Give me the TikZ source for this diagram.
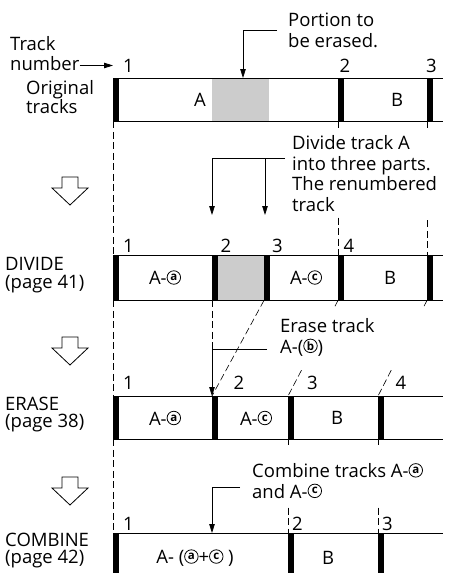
\documentclass[tikz,border=0pt]{standalone}
\usepackage{fontspec}
\setmainfont{Open Sans}
\usetikzlibrary{arrows.meta, calc}

\definecolor{erasegray}{gray}{0.8}
% circled small letter, as used for the track parts
\newcommand{\circlet}[1]{\tikz[baseline=(c.south)]\node[circle, draw, line width=0.8pt, inner sep=0pt, minimum size=13.5pt, font=\bfseries\fontsize{11.5}{11.5}\selectfont] (c) {#1};}

\begin{document}
\begin{tikzpicture}[x=1pt, y=-1pt,
    trkline/.style={line width=0.8pt},
    trkbar/.style={fill=black, inner sep=0pt, minimum width=5.5pt, minimum height=#1, anchor=north west},
    trkbar/.default=43pt,
    guide/.style={line width=0.6pt, dash pattern=on 7pt off 3.5pt},
    callout/.style={line width=0.8pt, -{Triangle[length=9pt, width=5.5pt]}},
    holarrow/.style={line width=0.8pt, fill=white},
    txt/.style={font=\fontsize{18.5}{20.5}\selectfont, inner sep=0pt, align=left},
    tnum/.style={font=\fontsize{18.5}{20}\selectfont, inner sep=0pt}]

    \useasboundingbox (0,0) rectangle (449,573);
    \clip (0,0) rectangle (449,573);

    % Original tracks
    \fill[erasegray] (212,78) rectangle (269,121);
    \draw[trkline] (113,78) -- (443,78) (113,121) -- (443,121);
    \node[trkbar] (o1) at (113,78) {};
    \node[trkbar] (o2) at (338,78) {};
    \node[trkbar] (o3) at (427,78) {};
    \node[tnum] (on1) at (128.5,65.5) {1};
    \node[tnum] (on2) at (345,65.5) {2};
    \node[tnum] (on3) at (431.5,65.5) {3};
    \node[txt] (oA) at (200,99.5) {A};
    \node[txt] (oB) at (397,99.5) {B};

    % DIVIDE
    \fill[erasegray] (212,255) rectangle (269,300);
    \draw[trkline] (113,255) -- (443,255) (113,300) -- (443,300);
    \node[trkbar=45pt] (d1) at (113,255) {};
    \node[trkbar=45pt] (d2) at (212,255) {};
    \node[trkbar=45pt] (d3) at (264,255) {};
    \node[trkbar=45pt] (d4) at (338,255) {};
    \node[trkbar=45pt] (d5) at (427,255) {};
    \node[tnum] (dn1) at (128.5,246) {1};
    \node[tnum] (dn2) at (226,246) {2};
    \node[tnum] (dn3) at (277.5,246) {3};
    \node[tnum] (dn4) at (349,246) {4};
    \node[txt] (dA) at (165,277.5) {A-\circlet{a}};
    \node[txt] (dC) at (306,277.5) {A-\circlet{c}};
    \node[txt] (dB) at (390,277.5) {B};

    % ERASE
    \draw[trkline] (113,396) -- (443,396) (113,439) -- (443,439);
    \node[trkbar] (e1) at (113,396) {};
    \node[trkbar] (e2) at (212,396) {};
    \node[trkbar] (e3) at (288,396) {};
    \node[trkbar] (e4) at (378,396) {};
    \node[tnum] (en1) at (128.5,382.5) {1};
    \node[tnum] (en2) at (239,382.5) {2};
    \node[tnum] (en3) at (312.5,382.5) {3};
    \node[tnum] (en4) at (401,382.5) {4};
    \node[txt] (eA) at (165,418) {A-\circlet{a}};
    \node[txt] (eC) at (256,418) {A-\circlet{c}};
    \node[txt] (eB) at (337,418) {B};

    % COMBINE
    \draw[trkline] (113,533) -- (443,533);
    \node[trkbar=50pt] (c1) at (113,533) {};
    \node[trkbar=50pt] (c2) at (288,533) {};
    \node[trkbar=50pt] (c3) at (378,533) {};
    \node[tnum] (cn1) at (128.5,524) {1};
    \node[tnum] (cn2) at (297.5,524) {2};
    \node[tnum] (cn3) at (387.5,524) {3};
    \node[txt] (cA) at (195,558) {A- (\circlet{a}+\circlet{c} )};
    \node[txt] (cB) at (328,558) {B};

    % guide lines between the rows
    \draw[guide] (o1.south west) -- (d1.north west);
    \draw[guide] (o2.south west) -- ($(o2.south west)!0.075!(d4.north west)$);
    \draw[guide] ($(o2.south west)!0.72!(d4.north west)$) -- (d4.north west);
    \draw[guide] (o3.south west) -- ($(o3.south west)!0.05!(d5.north west)$);
    \draw[guide] ($(o3.south west)!0.74!(d5.north west)$) -- (d5.north west);
    \coordinate (erknee) at (267,349);
    \draw[guide] (d1.south west) -- (e1.north west);
    \draw[guide] (d2.south west) -- (d2.south west |- erknee);
    \draw[guide] (d3.south west) -- (e2.north west);
    \draw[guide] (d4.south west) -- ($(d4.south west)!0.06!(e3.north west)$);
    \draw[guide] ($(d4.south west)!0.73!(e3.north west)$) -- (e3.north west);
    \draw[guide] (d5.south west) -- ($(d5.south west)!0.06!(e4.north west)$);
    \draw[guide] ($(d5.south west)!0.73!(e4.north west)$) -- (e4.north west);
    \draw[guide] (e1.south west) -- (c1.north west);
    \draw[guide] (e3.south west) -- ($(e3.south west)!0.06!(c2.north west)$);
    \draw[guide] ($(e3.south west)!0.73!(c2.north west)$) -- (c2.north west);
    \draw[guide] (e4.south west) -- ($(e4.south west)!0.06!(c3.north west)$);
    \draw[guide] ($(e4.south west)!0.73!(c3.north west)$) -- (c3.north west);

    % left labels
    \node[txt, anchor=base west] (trk) at (10,70.5) {Track\\number};
    \draw[callout] (trk.east |- on1) -- ([xshift=-10pt]on1.west);
    \node[txt, font=\fontsize{18.5}{19}\selectfont, anchor=base west] (orig) at (26,113) {Original\\tracks};
    \node[txt, font=\fontsize{18.5}{18}\selectfont, anchor=base west] (divide) at (5,288) {DIVIDE\\(page 41)};
    \node[txt, font=\fontsize{18.5}{17.5}\selectfont, anchor=base west] (erase) at (5,427.5) {ERASE\\(page 38)};
    \node[txt, font=\fontsize{18.5}{17.5}\selectfont, anchor=base west] (combine) at (5,563.5) {COMBINE\\(page 42)};

    % hollow step arrows
    \foreach \y in {177,337,477}
        \draw[holarrow] (62,\y) -- (78,\y) -- (78,\y+11) -- (88,\y+11) -- (70,\y+28) -- (52,\y+11) -- (62,\y+11) -- cycle;

    % call-outs
    \node[txt, anchor=base west] (portion) at (288,47) {Portion to\\be erased.};
    \coordinate (erasepart) at (243,78);
    \draw[callout] ([xshift=-11pt]portion.west) -| (erasepart);

    \node[txt, anchor=base west] (divtxt) at (292,211) {Divide track A\\into three parts.\\The renumbered\\track};
    \coordinate (divknee) at (285,158);
    \coordinate (cutA) at (212,215);
    \coordinate (cutB) at (265,215);
    \draw[callout] (divknee) -| (cutA);
    \draw[callout] (divknee -| cutB) -- (cutB);

    \node[txt, anchor=base west] (erasetxt) at (280,353) {Erase track\\A-(\circlet{b})};
    \draw[callout] (erknee) -| (e2.north west);

    \node[txt, anchor=base west] (combtxt) at (252,498) {Combine tracks A-\circlet{a}\\and A-\circlet{c}};
    \coordinate (cbknee) at (240,487);
    \coordinate (cbpoint) at (212,533);
    \draw[callout] (cbknee) -| (cbpoint);
\end{tikzpicture}
\end{document}
